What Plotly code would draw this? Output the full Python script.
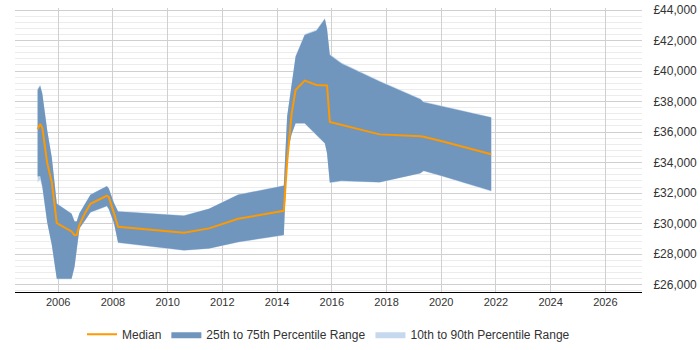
import plotly.graph_objects as go

dates = [
    "2005-04-01", "2005-05-05", "2005-06-03", "2005-08-07", "2005-10-08",
    "2005-12-13", "2006-06-28", "2006-08-07", "2006-09-05", "2006-10-12",
    "2006-12-24", "2007-03-08", "2007-10-12", "2007-11-07", "2008-01-15",
    "2008-03-10", "2010-08-07", "2011-07-08", "2012-07-31", "2014-04-01",
    "2014-05-15", "2014-07-12", "2014-09-05", "2015-01-05", "2015-06-10",
    "2015-10-01", "2015-10-30", "2015-12-06", "2016-05-08", "2017-10-01",
    "2019-03-28", "2019-05-12", "2020-01-26", "2021-10-30",
]

median = [
    36190, 36540, 36260, 33970, 32700, 30040, 29490, 29250, 29270, 29930,
    30690, 31300, 31830, 31740, 30690, 29800, 29400, 29690, 30320, 30840,
    34000, 37130, 38760, 39370, 39090, 39090, 39050, 36670, 36490, 35850,
    35730, 35700, 35380, 34550,
]

q75 = [
    38760, 39020, 38500, 36100, 34300, 31300, 30650, 30140, 30140, 30690,
    31290, 31890, 32450, 32300, 31350, 30800, 30520, 30970, 31890, 32480,
    37000, 39200, 40940, 42360, 42640, 43410, 42740, 41050, 40500, 39310,
    38150, 37960, 37680, 36950,
]

q25 = [
    33090, 33130, 32430, 30100, 28600, 26390, 26390, 27200, 28300, 29700,
    30200, 30750, 31150, 30960, 30050, 28770, 28250, 28380, 28800, 29250,
    34500, 35850, 36580, 36580, 35820, 35270, 34620, 32700, 32810, 32720,
    33310, 33460, 33100, 32150,
]

q90 = [
    38850, 39100, 38560, 36150, 34330, 31330, 30680, 30170, 30170, 30720,
    31320, 31920, 32480, 32330, 31380, 30830, 30550, 31000, 31920, 32510,
    37050, 39260, 41000, 42420, 42700, 43480, 42800, 41120, 40560, 39360,
    38200, 38010, 37720, 36990,
]

q10 = [
    32700, 32900, 32300, 30050, 28550, 26350, 26350, 27150, 28250, 29660,
    30170, 30720, 31120, 30930, 30020, 28740, 28220, 28350, 28770, 29220,
    34450, 35800, 36540, 36540, 35780, 35230, 34580, 32660, 32770, 32690,
    33280, 33430, 33070, 32110,
]

y_ticks = [26000, 28000, 30000, 32000, 34000, 36000, 38000, 40000, 42000, 44000]
y_tick_text = ["£26,000", "£28,000", "£30,000", "£32,000", "£34,000",
               "£36,000", "£38,000", "£40,000", "£42,000", "£44,000"]
x_ticks = ["2006-01-01", "2008-01-01", "2010-01-01", "2012-01-01", "2014-01-01",
           "2016-01-01", "2018-01-01", "2020-01-01", "2022-01-01", "2024-01-01",
           "2026-01-01"]
x_tick_text = ["2006", "2008", "2010", "2012", "2014", "2016", "2018", "2020",
               "2022", "2024", "2026"]

BAND_OUTER = "#c6d8ee"
BAND_INNER = "#7096bd"
ORANGE = "#ff9900"

fig = go.Figure()

fig.add_trace(go.Scatter(x=dates, y=q10, mode="lines", line=dict(width=0, color=BAND_OUTER),
                         showlegend=False, hoverinfo="skip"))
fig.add_trace(go.Scatter(x=dates, y=q90, mode="lines", line=dict(width=0, color=BAND_OUTER),
                         fill="tonexty", fillcolor=BAND_OUTER,
                         name="10th to 90th Percentile Range", legendrank=3))
fig.add_trace(go.Scatter(x=dates, y=q25, mode="lines", line=dict(width=0, color=BAND_INNER),
                         showlegend=False, hoverinfo="skip"))
fig.add_trace(go.Scatter(x=dates, y=q75, mode="lines", line=dict(width=0, color=BAND_INNER),
                         fill="tonexty", fillcolor=BAND_INNER,
                         name="25th to 75th Percentile Range", legendrank=2))
fig.add_trace(go.Scatter(x=dates, y=median, mode="lines", line=dict(width=2, color=ORANGE),
                         name="Median", legendrank=1))

fig.update_layout(
    width=700, height=350,
    margin=dict(l=15, r=58, t=8, b=58, autoexpand=False),
    paper_bgcolor="white", plot_bgcolor="white",
    font=dict(family="Liberation Sans, Arial, sans-serif", size=11, color="#333"),
    showlegend=True,
    legend=dict(orientation="h", x=0.5, xanchor="center",
                yref="container", y=0.045, yanchor="middle",
                font=dict(size=12, color="#333"), itemwidth=30, traceorder="normal"),
    xaxis=dict(
        type="date",
        range=["2004-06-03", "2027-05-05"],
        tickvals=x_ticks, ticktext=x_tick_text,
        showgrid=True, gridcolor="#d0d0d0", gridwidth=1,
        showline=True, linecolor="#000", linewidth=1,
        ticks="", zeroline=False,
        tickfont=dict(size=11, color="#333"),
    ),
    yaxis=dict(
        side="right",
        range=[25522, 44131],
        tickvals=y_ticks, ticktext=y_tick_text,
        showgrid=True, gridcolor="#d0d0d0", gridwidth=1,
        minor=dict(dtick=400, tick0=26000, showgrid=True, gridcolor="#ececec", gridwidth=1),
        showline=False, zeroline=False,
        ticks="outside", ticklen=8, tickcolor="rgba(0,0,0,0)",
        tickfont=dict(size=12, color="#333"),
    ),
)

fig.write_html("out.html")
